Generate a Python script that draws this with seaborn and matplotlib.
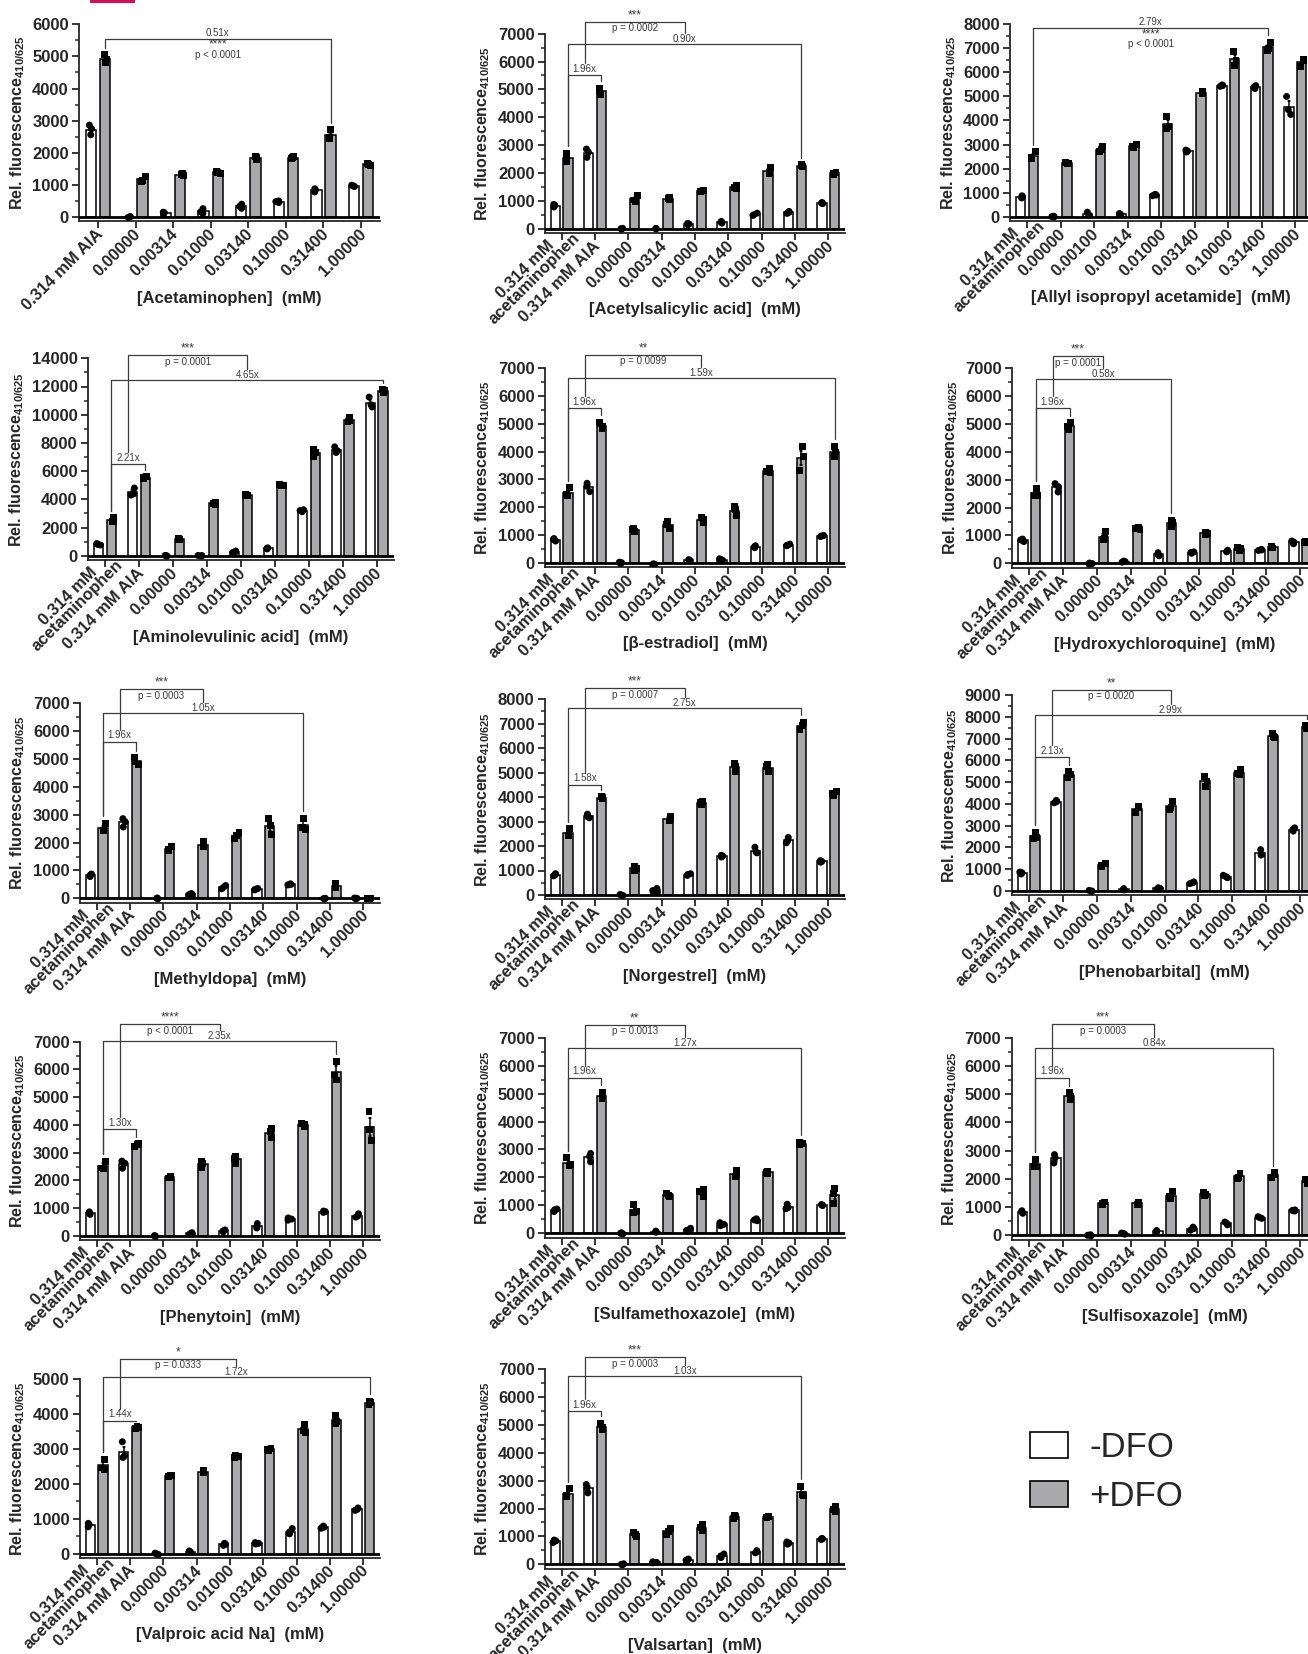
import numpy as np
import pandas as pd
import seaborn as sns
import matplotlib.pyplot as plt
from matplotlib import font_manager
from matplotlib.ticker import MultipleLocator
from matplotlib.patches import Patch, Rectangle
from matplotlib.transforms import ScaledTranslation

# ---------------- data (3 replicates per bar) ----------------
acet_label = "0.314 mM\nacetaminophen"
aia_label = "0.314 mM AIA"
concs = ["0.00000", "0.00314", "0.01000", "0.03140", "0.10000", "0.31400", "1.00000"]
concs_allyl = ["0.00000", "0.00100", "0.00314", "0.01000", "0.03140", "0.10000", "0.31400", "1.00000"]
labels_std = [acet_label, aia_label] + concs

acet_minus = [780, 840, 870]
acet_plus = [2420, 2450, 2700]
aia_minus = [2560, 2750, 2860]
aia_plus = [4820, 4920, 5050]

acetaminophen_minus = [aia_minus, [-10, 5, 15], [100, 130, 150], [110, 160, 260], [270, 330, 400],
                       [450, 480, 500], [780, 840, 880], [950, 970, 990]]
acetaminophen_plus = [aia_plus, [1100, 1150, 1270], [1300, 1320, 1340], [1360, 1400, 1420],
                      [1800, 1840, 1880], [1820, 1850, 1870], [2440, 2470, 2710], [1610, 1640, 1660]]

asa_minus = [acet_minus, aia_minus, [-10, 0, 15], [-5, 5, 10], [140, 170, 190], [200, 240, 260],
             [480, 500, 560], [550, 590, 620], [900, 920, 940]]
asa_plus = [acet_plus, aia_plus, [990, 1030, 1180], [1050, 1080, 1110], [1340, 1360, 1390],
            [1440, 1480, 1560], [1980, 2010, 2200], [2220, 2260, 2300], [1950, 1990, 2020]]

allyl_minus = [acet_minus, [-10, 5, 20], [50, 80, 190], [90, 110, 130], [870, 900, 930],
               [2690, 2730, 2770], [5420, 5450, 5480], [5330, 5390, 5450], [4250, 4450, 5000]]
allyl_plus = [acet_plus, [2200, 2230, 2260], [2700, 2780, 2900], [2880, 2930, 2990], [3650, 3750, 4150],
              [5130, 5160, 5190], [6300, 6500, 6850], [6920, 7000, 7250], [6250, 6500, 6550]]

ala_minus = [[760, 800, 860], [4300, 4380, 4800], [-20, 0, 20], [-20, 10, 20], [230, 280, 330],
             [480, 520, 560], [3120, 3200, 3260], [7320, 7450, 7720], [10550, 10700, 11250]]
ala_plus = [acet_plus, [5480, 5530, 5600], [1120, 1160, 1220], [3660, 3700, 3780], [4240, 4300, 4360],
            [4960, 5010, 5060], [7060, 7300, 7560], [9500, 9620, 9800], [11600, 11700, 11780]]

estradiol_minus = [acet_minus, aia_minus, [-30, 0, 20], [-80, -60, -40], [70, 90, 110], [90, 110, 140],
                   [540, 570, 610], [610, 630, 670], [940, 960, 980]]
estradiol_plus = [acet_plus, aia_plus, [1130, 1180, 1250], [1230, 1380, 1470], [1440, 1560, 1620],
                  [1700, 1900, 2010], [3230, 3280, 3380], [3330, 3830, 4200], [3820, 3960, 4200]]

hcq_minus = [acet_minus, aia_minus, [-30, -10, 10], [40, 60, 80], [270, 320, 380], [360, 390, 410],
             [410, 440, 470], [460, 480, 500], [700, 760, 800]]
hcq_plus = [acet_plus, aia_plus, [850, 900, 1130], [1220, 1260, 1290], [1330, 1480, 1550],
            [1040, 1070, 1100], [470, 520, 560], [550, 580, 600], [730, 760, 780]]

methyldopa_minus = [acet_minus, aia_minus, [-20, 0, 10], [130, 150, 170], [340, 390, 460], [300, 330, 350],
                    [480, 500, 520], [-20, -10, 0], [-20, 0, 10]]
methyldopa_plus = [acet_plus, aia_plus, [1700, 1750, 1870], [1850, 1900, 2030], [2140, 2250, 2370],
                   [2300, 2600, 2850], [2480, 2550, 2880], [400, 450, 520], [-10, 0, 10]]

norgestrel_minus = [acet_minus, [3150, 3200, 3300], [-20, 0, 20], [130, 180, 270], [800, 840, 870],
                    [1550, 1590, 1620], [1720, 1760, 1950], [2130, 2230, 2350], [1340, 1370, 1400]]
norgestrel_plus = [acet_plus, [3930, 3980, 4010], [1000, 1100, 1160], [3020, 3080, 3220], [3710, 3760, 3820],
                   [5050, 5230, 5350], [5050, 5230, 5330], [6740, 6900, 7050], [4080, 4140, 4230]]

pheno_minus = [acet_minus, [4050, 4110, 4160], [-20, 0, 30], [50, 80, 110], [90, 120, 150], [340, 380, 420],
               [610, 660, 720], [1650, 1680, 1900], [2750, 2820, 2900]]
pheno_plus = [acet_plus, [5200, 5350, 5480], [1130, 1190, 1250], [3600, 3820, 3870], [3750, 3830, 4120],
              [4820, 5050, 5260], [5350, 5400, 5560], [7050, 7100, 7250], [7460, 7530, 7580]]

phenytoin_minus = [acet_minus, [2440, 2620, 2700], [-20, 0, 15], [70, 90, 120], [150, 180, 220],
                   [290, 350, 450], [570, 610, 650], [850, 880, 900], [680, 720, 800]]
phenytoin_plus = [acet_plus, [3240, 3280, 3330], [2090, 2110, 2130], [2480, 2600, 2690], [2620, 2800, 2850],
                  [3540, 3770, 3860], [3950, 4020, 4070], [5620, 5800, 6300], [3430, 3850, 4500]]

smx_minus = [acet_minus, aia_minus, [-20, 0, 20], [40, 60, 80], [60, 110, 180], [270, 320, 380],
             [450, 480, 520], [880, 920, 1040], [990, 1010, 1030]]
smx_plus = [acet_plus, aia_plus, [730, 770, 1020], [1320, 1350, 1420], [1320, 1480, 1560],
            [2040, 2100, 2250], [2150, 2180, 2230], [3160, 3210, 3260], [1080, 1420, 1620]]

sfx_minus = [acet_minus, aia_minus, [-20, 0, 20], [40, 60, 80], [110, 140, 170], [180, 240, 290],
             [370, 430, 470], [600, 630, 660], [860, 880, 900]]
sfx_plus = [acet_plus, aia_plus, [1080, 1140, 1180], [1090, 1130, 1160], [1320, 1360, 1540],
            [1400, 1460, 1500], [2000, 2060, 2200], [2060, 2160, 2220], [1850, 1900, 1980]]

valproic_minus = [[770, 830, 870], [2750, 2800, 3200], [-20, 0, 20], [40, 60, 80], [240, 270, 300],
                  [280, 300, 320], [570, 620, 720], [730, 760, 790], [1240, 1270, 1310]]
valproic_plus = [acet_plus, [3580, 3610, 3640], [2200, 2230, 2250], [2310, 2350, 2390], [2740, 2770, 2800],
                 [2950, 2980, 3010], [3450, 3520, 3680], [3720, 3780, 3950], [4270, 4310, 4360]]

valsartan_minus = [acet_minus, aia_minus, [-20, 0, 20], [50, 70, 90], [110, 150, 190], [240, 300, 370],
                   [410, 450, 490], [720, 760, 800], [890, 910, 930]]
valsartan_plus = [acet_plus, aia_plus, [1000, 1060, 1150], [1080, 1180, 1300], [1200, 1330, 1420],
                  [1650, 1700, 1740], [1670, 1700, 1730], [2450, 2500, 2800], [1900, 1950, 2070]]

# panel: drug name, labels, -DFO, +DFO, y max, y step
panels = [
    ("Acetaminophen", [aia_label] + concs, acetaminophen_minus, acetaminophen_plus, 6000, 1000),
    ("Acetylsalicylic acid", labels_std, asa_minus, asa_plus, 7000, 1000),
    ("Allyl isopropyl acetamide", [acet_label] + concs_allyl, allyl_minus, allyl_plus, 8000, 1000),
    ("Aminolevulinic acid", labels_std, ala_minus, ala_plus, 14000, 2000),
    ("\u03b2-estradiol", labels_std, estradiol_minus, estradiol_plus, 7000, 1000),
    ("Hydroxychloroquine", labels_std, hcq_minus, hcq_plus, 7000, 1000),
    ("Methyldopa", labels_std, methyldopa_minus, methyldopa_plus, 7000, 1000),
    ("Norgestrel", labels_std, norgestrel_minus, norgestrel_plus, 8000, 1000),
    ("Phenobarbital", labels_std, pheno_minus, pheno_plus, 9000, 1000),
    ("Phenytoin", labels_std, phenytoin_minus, phenytoin_plus, 7000, 1000),
    ("Sulfamethoxazole", labels_std, smx_minus, smx_plus, 7000, 1000),
    ("Sulfisoxazole", labels_std, sfx_minus, sfx_plus, 7000, 1000),
    ("Valproic acid Na", labels_std, valproic_minus, valproic_plus, 5000, 1000),
    ("Valsartan", labels_std, valsartan_minus, valsartan_plus, 7000, 1000),
]

# annotations: single bracket (k, y, fold, stars, p) or double ((k1,y1,f1),(k2,y2,f2),(y3,stars,p))
annotations = [
    ("single", (6, 5545, "0.51x", "****", "p < 0.0001")),
    ("double", ((1, 5515, "1.96x"), (7, 6640, "0.90x"), (7430, "***", "p = 0.0002"))),
    ("single", (7, 7836, "2.79x", "****", "p < 0.0001")),
    ("double", ((1, 6480, "2.21x"), (8, 12460, "4.65x"), (14230, "***", "p = 0.0001"))),
    ("double", ((1, 5560, "1.96x"), (8, 6640, "1.59x"), (7480, "**", "p = 0.0099"))),
    ("double", ((1, 5560, "1.96x"), (4, 6600, "0.58x"), (7440, "***", "p = 0.0001"))),
    ("double", ((1, 5620, "1.96x"), (6, 6660, "1.05x"), (7500, "***", "p = 0.0003"))),
    ("double", ((1, 4490, "1.58x"), (7, 7620, "2.75x"), (8440, "***", "p = 0.0007"))),
    ("double", ((1, 6140, "2.13x"), (8, 8090, "2.99x"), (9230, "**", "p = 0.0020"))),
    ("double", ((1, 3840, "1.30x"), (7, 7020, "2.35x"), (7630, "****", "p < 0.0001"))),
    ("double", ((1, 5570, "1.96x"), (7, 6640, "1.27x"), (7470, "**", "p = 0.0013"))),
    ("double", ((1, 5580, "1.96x"), (7, 6650, "0.84x"), (7470, "***", "p = 0.0003"))),
    ("double", ((1, 3800, "1.44x"), (8, 5060, "1.72x"), (5570, "*", "p = 0.0333"))),
    ("double", ((1, 5490, "1.96x"), (7, 6740, "1.03x"), (7420, "***", "p = 0.0003"))),
]

# layout in pixels: first tick x, last tick x, y of top tick, y of zero
geometry = [
    (98, 361, 24.3, 217), (561.7, 828.3, 33.7, 228.7), (1027, 1295.3, 24.3, 216.7),
    (105, 376.7, 358.3, 555.7), (561.7, 828.3, 368.3, 562.7), (1029.3, 1300.3, 368.3, 563.3),
    (96.7, 363.3, 703.3, 898.3), (561.7, 828.3, 699, 895), (1028.7, 1300.3, 695, 891),
    (96.7, 363.3, 1041.7, 1236), (561.7, 828.3, 1037.7, 1233.3), (1028.7, 1300.3, 1037.7, 1235.3),
    (96.7, 363.3, 1378.7, 1553.8), (561.7, 828.3, 1369, 1564.3),
]

# ---------------- style ----------------
sns.set_style('ticks')
# an Arial-like family that really has a bold face
have_bold = {f.name for f in font_manager.fontManager.ttflist if f.weight in (700, 'bold')}
FAMILY = next((f for f in ['Liberation Sans', 'Arimo', 'Noto Sans', 'Roboto', 'DejaVu Sans'] if f in have_bold),
              'DejaVu Sans')
plt.rcParams['font.family'] = [FAMILY, 'DejaVu Sans']
plt.rcParams['font.weight'] = 'bold'
plt.rcParams['mathtext.fontset'] = 'custom'
plt.rcParams['mathtext.rm'] = FAMILY
plt.rcParams['axes.linewidth'] = 1.3
np.random.seed(3)

GRAY = '#a9a9ab'
ANN = '#3c3c3c'
W, H = 1308, 1654
OFF = 0.19
HUES = ["-DFO", "+DFO"]
TICK_FS = 12

fig = plt.figure(figsize=(W / 100, H / 100), dpi=100)


def long_df(labels, minus, plus):
    rows = []
    for lab, m, p in zip(labels, minus, plus):
        rows += [(lab, "-DFO", v) for v in m]
        rows += [(lab, "+DFO", v) for v in p]
    return pd.DataFrame(rows, columns=["group", "dfo", "value"])


def txt(ax, x, y, s, dy, size=7):
    ax.annotate(s, (x, y), xytext=(0, dy * 0.72), textcoords='offset points', ha='center', va='center',
                fontsize=size, fontweight='normal', color=ANN, annotation_clip=False)


def line(ax, xs, ys):
    ax.plot(xs, ys, color=ANN, lw=0.9, clip_on=False, zorder=6)


for (drug, labels, minus, plus, ymax, step), (kind, ann), (t0, tn, top, zero) in zip(panels, annotations, geometry):
    n = len(labels)
    s = (tn - t0) / (n - 1)
    left, right = t0 - 0.5 * s, tn + 0.5 * s
    bottom = zero + 0.022 * (zero - top)
    ax = fig.add_axes([left / W, 1 - bottom / H, (right - left) / W, (bottom - top) / H])
    df = long_df(labels, minus, plus)

    sns.barplot(data=df, x="group", y="value", hue="dfo", order=labels, hue_order=HUES,
                palette={"-DFO": "white", "+DFO": GRAY}, saturation=1, width=0.76, gap=0.27,
                errorbar="se", capsize=0.12, err_kws={"color": "black", "linewidth": 1.1},
                edgecolor="black", linewidth=1.1, legend=False, ax=ax)
    for lev, mk in zip(HUES, ["o", "s"]):
        sns.stripplot(data=df[df.dfo == lev], x="group", y="value", hue="dfo", order=labels,
                      hue_order=HUES, palette={"-DFO": "black", "+DFO": "black"}, dodge=True,
                      jitter=0.14, marker=mk, size=5, linewidth=0, legend=False, zorder=4, ax=ax)

    ax.axhline(0, color='black', lw=2.0, zorder=3)
    ax.set_xlim(-0.5, n - 0.5)
    ax.set_ylim(-0.022 * ymax, ymax)
    ax.yaxis.set_major_locator(MultipleLocator(step))
    ax.yaxis.set_minor_locator(MultipleLocator(step / 2))
    sns.despine(ax=ax)
    ax.tick_params(axis='both', which='major', direction='out', length=5, width=1.3,
                   labelsize=TICK_FS, pad=2.5)
    ax.tick_params(axis='y', which='minor', direction='out', length=3, width=1.1)
    ax.set_xticks(range(n))
    ax.set_xticklabels(labels, rotation=45, ha='right', va='center', rotation_mode='anchor',
                       multialignment='center', linespacing=0.85, fontsize=TICK_FS, fontweight='bold')
    # the two-line label sits further right and higher than the one-line ones
    for lab in ax.get_xticklabels():
        dx, dy = (8.0, 8.9) if '\n' in lab.get_text() else (1.9, 0)
        lab.set_transform(lab.get_transform() + ScaledTranslation(dx / 72, dy / 72, fig.dpi_scale_trans))
    for lab in ax.get_yticklabels():
        lab.set_fontweight('bold')
    ax.set_ylabel(r'Rel. fluorescence$_{\mathrm{410/625}}$', fontsize=11.5, fontweight='bold', labelpad=4)
    ax.set_xlabel(f'[{drug}]  (mM)', fontsize=12, fontweight='bold', va='center')
    ax.xaxis.set_label_coords(0.5, -77 / (bottom - top))

    dpp = ymax / (zero - top)

    def base(i):
        return max(plus[i]) + 7 * dpp

    if kind == "single":
        k, y, fold, stars, p = ann
        x1, x2 = OFF, k + OFF
        line(ax, [x1, x1, x2, x2], [base(0), y, y, base(k)])
        xm = (x1 + x2) / 2
        txt(ax, xm, y, fold, 6)
        txt(ax, xm, y, stars, -6, 8.5)
        txt(ax, xm, y, p, -16)
    else:
        (k1, y1, f1), (k2, y2, f2), (y3, stars, p) = ann
        a, b1, b2 = OFF, k1 + OFF, k2 + OFF
        line(ax, [a, a, b1, b1], [base(0), y1, y1, min(base(k1), y1)])
        line(ax, [a, a, b2, b2], [base(0), y2, y2, base(k2)])
        m1, m2 = (a + b1) / 2, (a + b2) / 2
        txt(ax, m1, y1, f1, 6.5)
        txt(ax, m2, y2, f2, 5)
        line(ax, [m1, m1, m2, m2], [y1 + 12 * dpp, y3, y3, y2 + 11 * dpp])
        txt(ax, (m1 + m2) / 2, y3, stars, 6.5, 8.5)
        txt(ax, (m1 + m2) / 2, y3, p, -6.5)

# legend
handles = [Patch(facecolor='white', edgecolor='black', lw=1.2, label='-DFO'),
           Patch(facecolor=GRAY, edgecolor='black', lw=1.2, label='+DFO')]
fig.legend(handles=handles, loc='upper left', bbox_to_anchor=(999 / W, 1 - 1400 / H), frameon=False,
           prop={'size': 25, 'weight': 'normal'}, handlelength=1.1, handleheight=0.8,
           handletextpad=0.6, labelspacing=0.45)

# clipped header fragment at the very top
fig.add_artist(Rectangle((90 / W, 1 - 3 / H), 45 / W, 3 / H, transform=fig.transFigure,
                         color='#c2185b', lw=0))

fig.savefig('out.png', dpi=100)
